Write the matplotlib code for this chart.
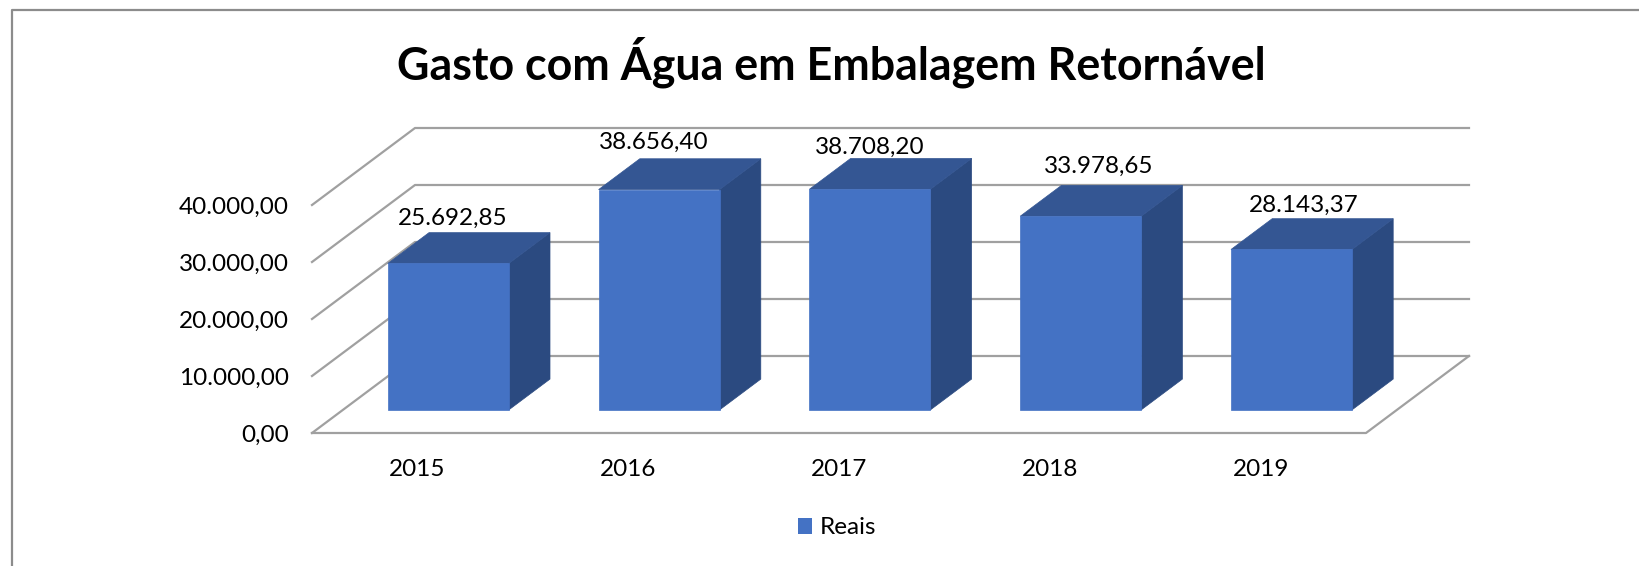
import matplotlib
matplotlib.use("Agg")
import matplotlib.pyplot as plt
from matplotlib.patches import Patch, Polygon

years = ["2015", "2016", "2017", "2018", "2019"]
reais = [25692.85, 38656.40, 38708.20, 33978.65, 28143.37]
labels = ["25.692,85", "38.656,40", "38.708,20", "33.978,65", "28.143,37"]
y_ticks = [0, 10000, 20000, 30000, 40000]
y_labels = ["0,00", "10.000,00", "20.000,00", "30.000,00", "40.000,00"]

W, H = 1639, 566
FRONT = "#4472c4"
TOP = "#345693"
SIDE = "#2b4a80"
GRID = "#a0a0a0"

# depth of the floor, in x and y data units
DX = 0.4886
DY = 13509
BAR_W = 0.574
D0, D1 = 0.3, 0.7

# nudges of the value labels, in pixels
label_nudge = [(4, 14), (-5, 16), (0, 11), (18, 19), (12, 13)]


def proj(x, v, d):
    return (x + d * DX, v + d * DY)


fig = plt.figure(figsize=(W / 100, H / 100), dpi=100)
plt.rcParams["font.family"] = ["Lato", "DejaVu Sans"]
ax = fig.add_axes([312 / W, 1 - 433 / H, (1366 - 312) / W, (433 - 205) / H])
ax.set_xlim(-0.5, 4.5)
ax.set_ylim(0, 40000)
for s in ax.spines.values():
    s.set_visible(False)
ax.patch.set_visible(False)
ax.set_xticks(range(len(years)), years)
ax.set_yticks(y_ticks, y_labels)
ax.tick_params(length=0, labelsize=17.5, labelcolor="black")
ax.tick_params(axis="y", pad=16.8)
ax.tick_params(axis="x", pad=18.5)

# walls and floor
for v in y_ticks:
    a = proj(-0.5, v, 0)
    b = proj(-0.5, v, 1)
    c = proj(4.5, v, 1)
    ax.plot([a[0], b[0], c[0]], [a[1], b[1], c[1]], color=GRID, lw=1.6, clip_on=False, zorder=1)
corners = [proj(-0.5, 0, 0), proj(4.5, 0, 0), proj(4.5, 0, 1)]
ax.plot([p[0] for p in corners], [p[1] for p in corners], color=GRID, lw=1.6, clip_on=False, zorder=1)

# bars
for i, v in enumerate(reais):
    x0, x1 = i - BAR_W / 2, i + BAR_W / 2
    side = [proj(x1, 0, D0), proj(x1, 0, D1), proj(x1, v, D1), proj(x1, v, D0)]
    top = [proj(x0, v, D0), proj(x1, v, D0), proj(x1, v, D1), proj(x0, v, D1)]
    front = [proj(x0, 0, D0), proj(x1, 0, D0), proj(x1, v, D0), proj(x0, v, D0)]
    for pts, col in ((side, SIDE), (top, TOP), (front, FRONT)):
        ax.add_patch(Polygon(pts, closed=True, facecolor=col, edgecolor=col, lw=0.5, clip_on=False, zorder=3))
    nx, ny = label_nudge[i]
    ax.annotate(labels[i], (i + D0 * DX, v + D1 * DY), xytext=(nx * 0.72, ny * 0.72),
                textcoords="offset points", ha="center", va="center", fontsize=17.5, color="black",
                zorder=5, annotation_clip=False)

fig.text(831 / W, 1 - 62 / H, "Gasto com Água em Embalagem Retornável", ha="center", va="center",
         fontsize=32.2, fontweight="bold", color="black")

fig.legend(handles=[Patch(facecolor=FRONT, label="Reais")], loc="center", bbox_to_anchor=(837 / W, 1 - 528 / H),
           frameon=False, fontsize=17.5, handlelength=0.6, handleheight=0.6, handletextpad=0.3)

# chart frame
fig.add_artist(plt.Line2D([11.5 / W, 11.5 / W, 1], [0, 1 - 9.5 / H, 1 - 9.5 / H], color="#8c8c8c", lw=1.6))

fig.savefig("out.png", dpi=100)
